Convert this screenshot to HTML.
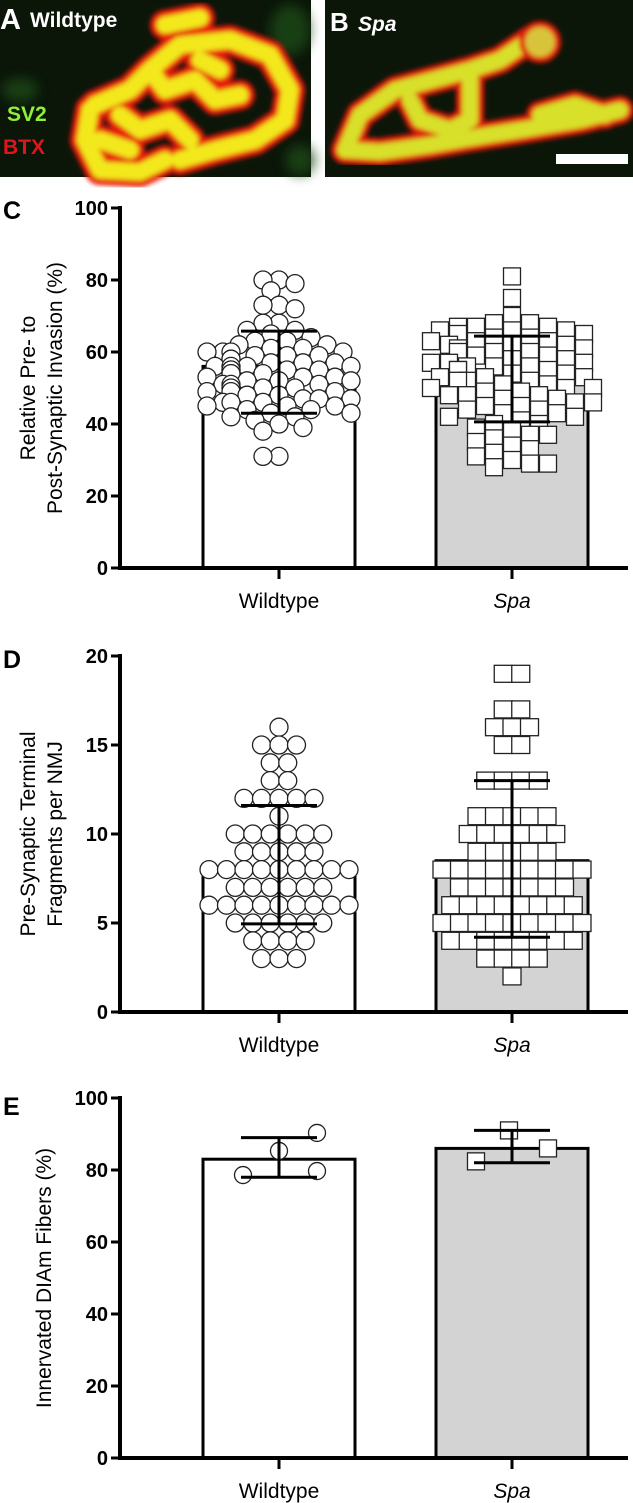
<!DOCTYPE html>
<html><head><meta charset="utf-8"><style>
html,body{margin:0;padding:0;background:#fff;}
svg{display:block;font-family:"Liberation Sans",sans-serif;}
</style></head><body>
<svg id="fig" width="633" height="1503" viewBox="0 0 633 1503" xmlns="http://www.w3.org/2000/svg">
<defs>
<filter id="blur" x="-10%" y="-10%" width="120%" height="120%"><feGaussianBlur stdDeviation="2.5"/></filter>
<filter id="blur2" x="-20%" y="-20%" width="140%" height="140%"><feGaussianBlur stdDeviation="6"/></filter>
</defs>
<!-- Panel A -->
<g>
<rect x="0" y="0" width="311" height="177" fill="#0b1609"/>
<g filter="url(#blur2)" fill="#1d4a16" opacity="0.8">
<ellipse cx="290" cy="30" rx="20" ry="25"/><ellipse cx="20" cy="90" rx="18" ry="12"/><ellipse cx="300" cy="160" rx="15" ry="15"/>
</g>
<g filter="url(#blur)" fill="none" stroke-linecap="round" stroke-linejoin="round">
<path d="M90,110 L85,140 L100,170 L140,172 L165,160 M95,105 L130,90 L150,70 L180,45 L230,40 L270,55 L290,90 L285,120 L255,140 L215,150 L180,160 M165,25 L200,18 M150,70 L165,90 L195,80 L215,100 L240,95 M120,115 L140,130 L170,120 L190,140 M100,140 L130,150 M200,60 L220,70" stroke="#e81a0a" stroke-width="30"/>
<path d="M90,110 L85,140 L100,170 L140,172 L165,160 M95,105 L130,90 L150,70 L180,45 L230,40 L270,55 L290,90 L285,120 L255,140 L215,150 L180,160 M165,25 L200,18 M150,70 L165,90 L195,80 L215,100 L240,95 M120,115 L140,130 L170,120 L190,140 M100,140 L130,150 M200,60 L220,70" stroke="#f2e81a" stroke-width="17"/>
</g>
<text x="0" y="29" font-size="29" font-weight="bold" fill="#fff">A</text>
<text x="30" y="27" font-size="21" font-weight="bold" fill="#fff">Wildtype</text>
<text x="7" y="121" font-size="21" font-weight="bold" fill="#8ef03a">SV2</text>
<text x="3" y="154" font-size="21" font-weight="bold" fill="#e0151a">BTX</text>
</g>
<!-- Panel B -->
<g>
<rect x="325" y="0" width="308" height="177" fill="#0b1609"/>
<g filter="url(#blur)" fill="none" stroke-linecap="round" stroke-linejoin="round">
<path d="M345,150 L360,115 L395,90 L440,78 L470,70 L500,60 L530,40 M345,150 L380,152 L430,145 L470,138 L520,130 L580,120 L620,110 M470,78 L470,120 L450,130 L420,120 L410,100 M540,115 L575,105 L605,115" stroke="#e01a0a" stroke-width="28"/>
<path d="M345,150 L360,115 L395,90 L440,78 L470,70 L500,60 L530,40 M345,150 L380,152 L430,145 L470,138 L520,130 L580,120 L620,110 M470,78 L470,120 L450,130 L420,120 L410,100 M540,115 L575,105 L605,115" stroke="#d8e02a" stroke-width="16"/>
<circle cx="540" cy="42" r="18" fill="#d8c43a" stroke="#e01a0a" stroke-width="6"/>
</g>
<text x="330" y="31" font-size="26" font-weight="bold" fill="#fff">B</text>
<text x="358" y="31" font-size="21" font-weight="bold" font-style="italic" fill="#fff">Spa</text>
<rect x="556" y="154" width="72" height="10" fill="#fff"/>
</g>
<g id="charts"></g>
</svg>
<script>
// ---- Panel C data ----
const catsC = ["Wildtype", "Spa"];
const meanC = [56, 52.3];
const sdHiC = [65.8, 64.4];
const sdLoC = [43, 40.6];
const wtC = [80,80,79,77,73,73,72,68,68,66,66,65,64,63,63,62,62,61,61,60,60,60,60,59,59,59,58,58,57,57,57,56,56,56,56,55,55,55,55,54,54,54,53,53,53,52,52,52,51,51,51,50,50,50,49,49,49,48,48,47,47,47,46,46,46,45,45,45,44,44,43,43,42,42,41,40,39,38,31,31];
const spaC = [81,75,70,68,68,67,67,67,66,66,66,65,65,64,64,63,63,63,62,62,62,61,61,60,60,60,59,59,58,58,57,57,57,56,56,56,55,55,55,54,54,53,53,53,52,52,52,51,51,50,50,50,49,49,48,48,48,47,47,46,46,45,45,44,44,43,43,42,42,41,40,40,39,38,37,37,36,35,34,33,32,31,30,29,29,28];
const ticksC = [0,20,40,60,80,100];
// ---- Panel D data ----
const meanD = [8.1, 8.5];
const sdHiD = [11.6, 13.0];
const sdLoD = [4.95, 4.2];
const wtDValues = [16,15,14,13,12,11,10,9,8,7,6,5,4,3];
const wtDCounts = [1,3,2,2,5,1,6,5,9,6,9,6,4,3];
const spaDValues = [19,17,16,15,13,11,10,9,8,7,6,5,4,3,2];
const spaDCounts = [2,2,3,2,4,5,6,5,9,7,8,9,8,4,1];
const ticksD = [0,5,10,15,20];
// ---- Panel E data ----
const meanE = [83, 86];
const sdHiE = [89, 91];
const sdLoE = [78, 82];
const wtE = [90.3, 85.3, 78.6, 79.7];
const spaE = [91, 86, 82.4];
const ticksE = [0,20,40,60,80,100];

const NS = "http://www.w3.org/2000/svg";
const root = document.getElementById("charts");
function mk(tag, attrs, parent){ const e=document.createElementNS(NS,tag); for(const k in attrs) e.setAttribute(k,attrs[k]); (parent||root).appendChild(e); return e; }

const AX = 120, XEND = 628, catX = [279, 512], barHalf = 76;

function panel(o){
  const g = mk("g",{});
  
  
  const y = v => o.y0 - (v - 0) * (o.y0 - o.y1) / o.max;
  for (let i=0;i<2;i++){
    const b = mk("rect",{x:catX[i]-barHalf, y:y(o.mean[i]), width:barHalf*2, height:o.y0-y(o.mean[i]), fill:i? "#d3d3d3":"#fff", stroke:"#000","stroke-width":3},g);
    
    
  }
  o.drawPoints(g, y);
  for (let i=0;i<2;i++){
    const eg = mk("g",{stroke:"#000","stroke-width":3},g);
    
    
    mk("line",{x1:catX[i],x2:catX[i],y1:y(o.hi[i]),y2:y(o.lo[i])},eg);
    mk("line",{x1:catX[i]-38,x2:catX[i]+38,y1:y(o.hi[i]),y2:y(o.hi[i])},eg);
    mk("line",{x1:catX[i]-38,x2:catX[i]+38,y1:y(o.lo[i]),y2:y(o.lo[i])},eg);
  }
  const ya = mk("line",{x1:AX,x2:AX,y1:o.y1-2,y2:o.y0+2,stroke:"#000","stroke-width":4},g);
  
  
  const xa = mk("line",{x1:AX-2,x2:XEND,y1:o.y0,y2:o.y0,stroke:"#000","stroke-width":4},g);
  
  
  o.ticks.forEach(t=>{
    mk("line",{x1:AX-9,x2:AX,y1:y(t),y2:y(t),stroke:"#000","stroke-width":3},g);
    const tl = mk("text",{x:AX-12,y:y(t)+7,"text-anchor":"end","font-size":20,"font-weight":"bold"},g);
    tl.textContent = t;
    
    
  });
  for (let i=0;i<2;i++){
    mk("line",{x1:catX[i],x2:catX[i],y1:o.y0,y2:o.y0+11,stroke:"#000","stroke-width":3},g);
    const xl = mk("text",{x:catX[i],y:o.y0+40,"text-anchor":"middle","font-size":21,"font-style":i?"italic":"normal"},g);
    xl.textContent = catsC[i];
    
    
  }
  const pl = mk("text",{x:3,y:o.letterY,"font-size":25,"font-weight":"bold"},g);
  pl.textContent = o.letter;
  
  
  const cy = (o.y0+o.y1)/2;
  o.title.forEach((line,k)=>{
    const tx = o.title.length===1 ? 44 : 28 + k*27;
    const t = mk("text",{x:tx,y:cy,"text-anchor":"middle","font-size":21,transform:`rotate(-90 ${tx} ${cy})`,dy:7},g);
    t.textContent = line;
    
    
  });
}

function swarm(vals, cx, y, minD, step){
  const placed = [];
  const sorted = vals.slice().sort((a,b)=>b-a);
  const out = [];
  sorted.forEach(v=>{
    const py = y(v);
    let k=0, px=cx;
    while(true){
      const cand = k===0?[0]:(k%2?[k*step,-k*step]:[-k*step,k*step]);
      let ok=null;
      for(const c of cand){
        const x=cx+c;
        if(placed.every(p=>Math.hypot(p[0]-x,p[1]-py)>=minD)){ok=x;break;}
      }
      if(ok!==null){px=ok;break;}
      k++; if(k>9){px=cx+((k%2)?1:-1)*(k-4)*step;break;}
    }
    placed.push([px,py]); out.push([px,py,v]);
  });
  return out;
}

// Panel C
panel({name:"panel-c-invasion-chart", letter:"C", letterY:219, y0:568, y1:208, max:100, mean:meanC, hi:sdHiC, lo:sdLoC, ticks:ticksC,
  title:["Relative Pre- to","Post-Synaptic Invasion (%)"],
  drawPoints:(g,y)=>{
    swarm(wtC,catX[0],y,13,8).forEach(p=>{
      const c=mk("circle",{cx:p[0],cy:p[1],r:9,fill:"#fff",stroke:"#222","stroke-width":1.3},g);
      
      
    });
    swarm(spaC,catX[1],y,13,9).forEach(p=>{
      const s=mk("rect",{x:p[0]-8.5,y:p[1]-8.5,width:17,height:17,fill:"#fff",stroke:"#222","stroke-width":1.3},g);
      
      
    });
  }});

function rows(vals, counts, cx, y, d, fn){
  vals.forEach((v,i)=>{
    const n=counts[i];
    for(let j=0;j<n;j++){ fn(cx + (j-(n-1)/2)*d, y(v)); }
  });
}
// Panel D
panel({name:"panel-d-fragments-chart", letter:"D", letterY:668, y0:1012, y1:656, max:20, mean:meanD, hi:sdHiD, lo:sdLoD, ticks:ticksD,
  title:["Pre-Synaptic Terminal","Fragments per NMJ"],
  drawPoints:(g,y)=>{
    rows(wtDValues, wtDCounts, catX[0], y, 17.5, (x,yy)=>{
      const c=mk("circle",{cx:x,cy:yy,r:9,fill:"#fff",stroke:"#222","stroke-width":1.3},g);
      
      
    });
    rows(spaDValues, spaDCounts, catX[1], y, 17.5, (x,yy)=>{
      const s=mk("rect",{x:x-9,y:yy-8.5,width:18,height:17,fill:"#fff",stroke:"#222","stroke-width":1.3},g);
      
      
    });
  }});

// Panel E
const wtEX = [317, 279, 243, 317];
const spaEX = [509, 548, 476];
panel({name:"panel-e-innervation-chart", letter:"E", letterY:1115, y0:1458, y1:1098, max:100, mean:meanE, hi:sdHiE, lo:sdLoE, ticks:ticksE,
  title:["Innervated DIAm Fibers (%)"],
  drawPoints:(g,y)=>{
    wtE.forEach((v,i)=>{
      const c=mk("circle",{cx:wtEX[i],cy:y(v),r:8.5,fill:"#fff",stroke:"#222","stroke-width":1.3},g);
      
      
    });
    spaE.forEach((v,i)=>{
      const s=mk("rect",{x:spaEX[i]-8.5,y:y(v)-8.5,width:17,height:17,fill:"#fff",stroke:"#222","stroke-width":1.3},g);
      
      
    });
  }});
</script>
</body></html>
